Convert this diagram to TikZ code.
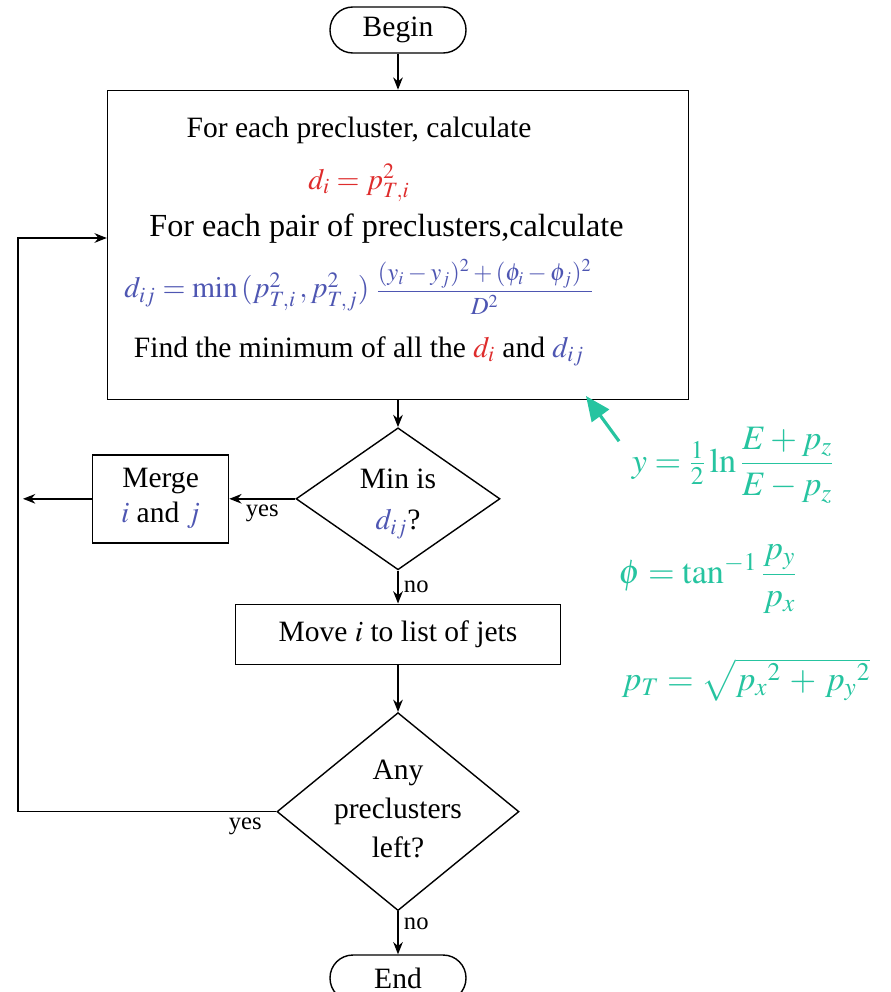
\documentclass[tikz,border=0pt]{standalone}
\usepackage{amsmath}
\usepackage{mathptmx}
\usepackage{fontspec}
\setmainfont{Liberation Serif}
\usetikzlibrary{arrows.meta,positioning,shapes.geometric}
\definecolor{dred}{RGB}{222,44,44}
\definecolor{dblue}{RGB}{78,86,178}
\definecolor{dteal}{RGB}{38,196,160}

\begin{document}
\begin{tikzpicture}[font=\fontsize{16.8}{20}\selectfont, line width=0.8pt,
    >={Stealth[length=7pt,width=5.5pt]},
    term/.style={draw, rounded corners=13pt, minimum width=2.72cm, minimum height=0.92cm, inner sep=0pt},
    box/.style={draw, align=center, inner sep=0pt},
    decision/.style={draw, diamond, inner sep=0pt},
    lbl/.style={font=\fontsize{14}{16}\selectfont, inner sep=3pt},
    eqn/.style={text=dteal, font=\fontsize{19.5}{23}\selectfont, inner sep=0pt}]
  \useasboundingbox (0,0) rectangle (17.8,-19.84);

  \node[term] (begin) at (7.96,-0.6) {Begin};
  \node[box, minimum width=11.62cm, minimum height=6.18cm, below=0.72cm of begin] (calc) {};
  \node[align=center] (calctxt) at ([xshift=-0.78cm,yshift=0.06cm]calc.center) {For each precluster, calculate\\[0.32cm]
    \textcolor{dred}{$d_i = p^2_{T,i}$}\\[0.24cm]
    \hspace*{1.1cm}{\fontsize{18.3}{20}\selectfont For each pair of preclusters,calculate}\\[0.3cm]
    \textcolor{dblue}{$d_{ij} = \min\,(p^2_{T,i}\,,p^2_{T,j})\;${\fontsize{14}{16}\selectfont$\dfrac{(y_i-y_j)^2+(\phi_i-\phi_j)^2}{D^2}$}}\\[0.4cm]
    Find the minimum of all the \textcolor{dred}{$d_i$} and \textcolor{dblue}{$d_{ij}$}};
  \node[decision, minimum width=4.08cm, minimum height=2.84cm, below=0.54cm of calc] (mindij) {};
  \node[align=center] (mindijtxt) at ([yshift=-0.1cm]mindij.center) {Min is\\[0.12cm]\textcolor{dblue}{$d_{ij}$}?};
  \node[box, minimum width=2.72cm, minimum height=1.76cm, left=1.32cm of mindij] (merge) {Merge\\\textcolor{dblue}{$i$} and \textcolor{dblue}{$j$}};
  \node[box, minimum width=6.5cm, minimum height=1.2cm, below=0.66cm of mindij] (move) {Move $i$ to list of jets};
  \node[decision, minimum width=4.84cm, minimum height=3.96cm, below=0.94cm of move] (left) {};
  \node[align=center] (lefttxt) at ([yshift=0.06cm]left.center) {Any\\[0.08cm]preclusters\\[0.08cm]left?};
  \node[term, below=0.86cm of left] (end) {End};

  % loop back on the left
  \coordinate (loopt) at (0.36,-4.76);
  \coordinate (loopb) at (loopt |- left);
  \coordinate (loopm) at ([xshift=0.1cm]loopt |- merge);

  \draw[->] (begin) -- (calc);
  \draw[->] (calc) -- (mindij);
  \draw[->] (mindij) -- node[lbl, below] {yes} (merge);
  \draw[->] (merge) -- (loopm);
  \draw[->] (mindij) -- node[lbl, right] {no} (move);
  \draw[->] (move) -- (left);
  \draw[->] (left) -- node[lbl, right, pos=0.3] {no} (end);
  \draw[->] (left.west) -- node[lbl, below, pos=0.12] {yes} (loopb) -- (loopt) -- (calc.west |- loopt);

  % formulas for y, phi, pT
  \node[eqn] (eqy) at (14.66,-9.3) {$y = \frac{1}{2}\ln\dfrac{E+p_z}{E-p_z}$};
  \node[eqn] (eqphi) at (14.16,-11.58) {$\phi = \tan^{-1}\dfrac{p_y}{p_x}$};
  \node[eqn] (eqpt) at (14.92,-13.6) {$p_T = \sqrt{{p_x}^2\,+\,{p_y}^2}$};
  \coordinate (tip) at (11.72,-7.92);
  \draw[dteal, line width=1.8pt, -{Triangle[length=14pt,width=12pt]}] ([xshift=-0.24cm,yshift=-0.3cm]eqy.north west) -- (tip);
\end{tikzpicture}
\end{document}
